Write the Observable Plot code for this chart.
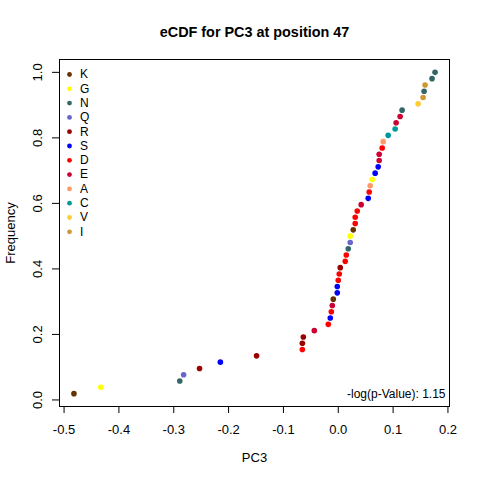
<!DOCTYPE html>
<html>
<head>
<meta charset="utf-8">
<script src="https://cdn.jsdelivr.net/npm/d3@7"></script>
<script src="https://cdn.jsdelivr.net/npm/@observablehq/plot@0.6"></script>
<style>
  html, body { margin: 0; padding: 0; background: #fff; }
</style>
</head>
<body>
<div id="chart"></div>
<script>
// Amino acid at each sorted observation (in ascending PC3 order)
const aa = ["K","G","N","Q","R","S","R","D","R","R","E","D","S","D","E","K","S","S","D","D",
            "R","D","D","N","Q","G","K","D","D","D","E","S","D","A","G","S","S","E","E","D",
            "A","C","C","E","E","N","V","I","N","I","N","N"];
// PC3 values (sorted)
const pc3 = [-0.482,-0.433,-0.289,-0.282,-0.253,-0.215,-0.149,-0.0655,-0.0655,-0.0637,
             -0.0437,-0.0182,-0.0146,-0.0127,-0.0109,-0.0091,-0.0018,-0.0018,0.0000,0.0018,
             0.0036,0.0127,0.0146,0.0182,0.0218,0.0218,0.0273,0.0309,0.0309,0.0346,
             0.0418,0.0546,0.0564,0.0582,0.0619,0.0673,0.0728,0.0746,0.0746,0.0801,
             0.0819,0.0910,0.1037,0.1055,0.1128,0.1164,0.1456,0.1547,0.1565,0.1583,
             0.1710,0.1765];
const legendLetters = ["K","G","N","Q","R","S","D","E","A","C","V","I"];
const legendColors = ["#663300","#FFFF00","#336666","#6666CC","#990000","#0000FF",
                      "#FF0000","#CC0033","#FF9966","#009999","#FFCC33","#CC9933"];
const xTicks = [-0.5,-0.4,-0.3,-0.2,-0.1,0.0,0.1,0.2];
const yTicks = [0.0,0.2,0.4,0.6,0.8,1.0];
const titleText = "eCDF for PC3 at position 47";
const xLabel = "PC3";
const yLabel = "Frequency";
const pText = "-log(p-Value): 1.15";

// empirical CDF: each sorted observation at rank / n
const n = pc3.length;
const data = pc3.map((v, i) => ({x: v, y: (i + 1) / n, aa: aa[i]}));

// R-style 4% axis extension
function rExt(lo, hi) { const p = 0.04 * (hi - lo); return [lo - p, hi + p]; }
const xDom = rExt(d3.min(pc3), d3.max(pc3));
const yDom = rExt(1 / n, 1);

const font = "Arial, 'Liberation Sans', sans-serif";

const legendMarks = [];
legendLetters.forEach((L, i) => {
  legendMarks.push(Plot.dot([L], {frameAnchor: "top-left", dx: 10, dy: 15 + i * 14.3,
    r: 2.4, fill: d => d, stroke: "none"}));
  legendMarks.push(Plot.text([L], {frameAnchor: "top-left", dx: 20.5, dy: 15 + i * 14.3,
    text: d => d, textAnchor: "start", lineAnchor: "middle", fontSize: 12, fill: "black"}));
});

const chart = Plot.plot({
  width: 480, height: 480,
  marginLeft: 59, marginRight: 31, marginTop: 59, marginBottom: 74,
  style: {fontFamily: font, background: "white", color: "black"},
  x: {domain: xDom},
  y: {domain: yDom},
  color: {domain: legendLetters, range: legendColors},
  marks: [
    Plot.frame({stroke: "black", strokeWidth: 1}),
    Plot.axisX({ticks: xTicks, tickSize: 7, tickPadding: 11, fontSize: 13,
      tickFormat: d => d.toFixed(1), label: null, stroke: "black"}),
    Plot.axisY({ticks: yTicks, tickSize: 7, tickFormat: () => "", label: null, stroke: "black"}),
    Plot.text(yTicks, {y: d => d, text: d => d.toFixed(1), frameAnchor: "left", dx: -22,
      rotate: -90, textAnchor: "middle", lineAnchor: "middle", fontSize: 13, fill: "black"}),
    Plot.dot(data, {x: "x", y: "y", fill: "aa", r: 2.8, stroke: "none"}),
    ...legendMarks,
    Plot.text([pText], {frameAnchor: "bottom-right", dx: -4, dy: -12, textAnchor: "end",
      lineAnchor: "middle", text: d => d, fontSize: 12, fill: "black"}),
    Plot.text([titleText], {frameAnchor: "top", dy: -27, text: d => d, fontWeight: "bold",
      textAnchor: "middle", lineAnchor: "middle", fontSize: 14.4, fill: "black"}),
    Plot.text([xLabel], {frameAnchor: "bottom", dy: 51, text: d => d, textAnchor: "middle",
      lineAnchor: "middle", fontSize: 13, fill: "black"}),
    Plot.text([yLabel], {frameAnchor: "left", dx: -49, text: d => d, rotate: -90,
      textAnchor: "middle", lineAnchor: "middle", fontSize: 13, fill: "black"})
  ]
});
document.getElementById("chart").appendChild(chart);
</script>
</body>
</html>
